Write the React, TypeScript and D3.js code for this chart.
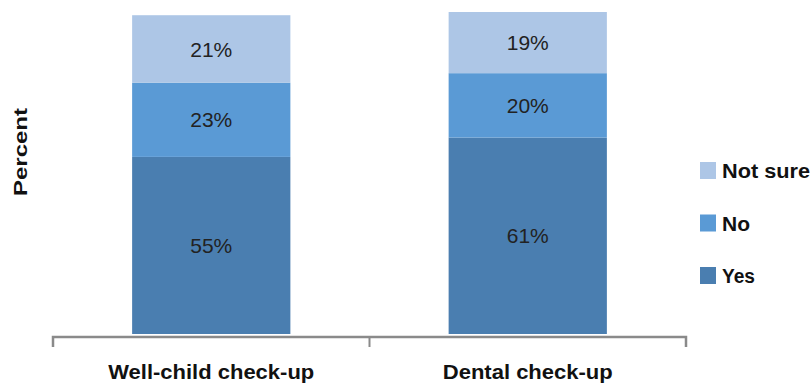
import * as d3 from "d3";

const WIDTH = 812;
const HEIGHT = 383;

const categories = ["Well-child check-up", "Dental check-up"];
const seriesNames = ["Yes", "No", "Not sure"];
const yesValues = [55, 61];
const noValues = [23, 20];
const notSureValues = [21, 19];

const COLORS = ["#4A7EB0", "#5A9AD5", "#ADC6E6"];
const AXIS_COLOR = "#8A8A8A";
const FONT = "Liberation Sans, Arial, sans-serif";

const PLOT = { left: 53, right: 686, top: 12, bottom: 334 };

// approximate rendered widths of bold labels in the reference
const categoryLabelWidths = [206, 170];
const legendLabelWidths: Record<string, number> = { "Not sure": 88, No: 28, Yes: 33 };

export default function App() {
  const rows = categories.map((c, i) => ({
    category: c,
    Yes: yesValues[i],
    No: noValues[i],
    "Not sure": notSureValues[i],
  }));

  const stacked = d3.stack<any>().keys(seriesNames)(rows);

  const xScale = d3
    .scaleBand()
    .domain(categories)
    .range([PLOT.left, PLOT.right])
    .paddingInner(0.5)
    .paddingOuter(0.25);

  const yScale = d3
    .scaleLinear()
    .domain([0, 100])
    .range([PLOT.bottom, PLOT.top]);

  const axisY = PLOT.bottom + 3;
  const step = (PLOT.right - PLOT.left) / categories.length;
  const tickXs = d3.range(categories.length + 1).map((i) => PLOT.left + i * step);

  const legendItems = [...seriesNames].reverse();

  return (
    <svg
      width={WIDTH}
      height={HEIGHT}
      style={{ position: "absolute", left: 0, top: 0, background: "#fff" }}
    >
      {/* bars */}
      {stacked.map((layer, si) => (
        <g key={layer.key} fill={COLORS[si]}>
          {layer.map((d, i) => (
            <rect
              key={i}
              x={xScale(categories[i])}
              y={yScale(d[1])}
              width={xScale.bandwidth()}
              height={yScale(d[0]) - yScale(d[1])}
            />
          ))}
        </g>
      ))}

      {/* data labels */}
      {stacked.map((layer) =>
        layer.map((d, i) => (
          <text
            key={layer.key + i}
            x={(xScale(categories[i]) ?? 0) + xScale.bandwidth() / 2}
            y={(yScale(d[0]) + yScale(d[1])) / 2}
            textAnchor="middle"
            dominantBaseline="central"
            fontFamily={FONT}
            fontSize={21}
            fill="#222"
          >
            {`${d[1] - d[0]}%`}
          </text>
        ))
      )}

      {/* x axis */}
      <path
        d={`M${PLOT.left},${axisY + 10} V${axisY} H${PLOT.right} V${axisY + 10}`}
        fill="none"
        stroke={AXIS_COLOR}
        strokeWidth={2.5}
      />
      {tickXs.slice(1, -1).map((x) => (
        <line
          key={x}
          x1={x}
          x2={x}
          y1={axisY}
          y2={axisY + 10}
          stroke={AXIS_COLOR}
          strokeWidth={2}
        />
      ))}
      {categories.map((c, i) => (
        <text
          key={c}
          x={(xScale(c) ?? 0) + xScale.bandwidth() / 2}
          y={379}
          textAnchor="middle"
          fontFamily={FONT}
          fontWeight="bold"
          fontSize={20}
          textLength={categoryLabelWidths[i]}
          lengthAdjust="spacingAndGlyphs"
          fill="#111"
        >
          {c}
        </text>
      ))}

      {/* y axis title */}
      <text
        transform={`translate(27, 152) rotate(-90)`}
        textAnchor="middle"
        fontFamily={FONT}
        fontWeight="bold"
        fontSize={18}
        textLength={88}
        lengthAdjust="spacingAndGlyphs"
        fill="#111"
      >
        Percent
      </text>

      {/* legend */}
      {legendItems.map((name, i) => {
        const y = 162 + i * 52.5;
        return (
          <g key={name} transform={`translate(700, ${y})`}>
            <rect width={16} height={17} fill={COLORS[seriesNames.indexOf(name)]} />
            <text
              x={22}
              y={16}
              fontFamily={FONT}
              fontWeight="bold"
              fontSize={20}
              textLength={legendLabelWidths[name]}
              lengthAdjust="spacingAndGlyphs"
              fill="#111"
            >
              {name}
            </text>
          </g>
        );
      })}
    </svg>
  );
}
